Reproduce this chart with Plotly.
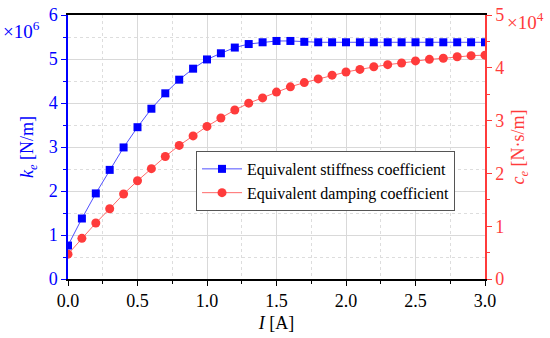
import plotly.graph_objects as go

current = [round(0.1 * i, 1) for i in range(31)]
stiffness = [0.76, 1.375, 1.945, 2.48, 2.99, 3.45, 3.87, 4.22, 4.53, 4.78, 4.99,
             5.13, 5.26, 5.34, 5.38, 5.41, 5.41, 5.39, 5.38, 5.38, 5.38, 5.38,
             5.38, 5.38, 5.38, 5.38, 5.38, 5.38, 5.38, 5.38, 5.38]
damping = [0.47, 0.77, 1.06, 1.33, 1.61, 1.86, 2.09, 2.32, 2.53, 2.71, 2.89,
           3.05, 3.20, 3.33, 3.43, 3.54, 3.64, 3.72, 3.79, 3.86, 3.92, 3.97,
           4.02, 4.06, 4.09, 4.13, 4.16, 4.18, 4.21, 4.23, 4.24]

BLUE = "#0000ff"
RED = "#ff3b3b"
FONT = "Liberation Serif, Times New Roman, serif"

fig = go.Figure()
fig.add_trace(go.Scatter(
    x=current, y=stiffness, name="Equivalent stiffness coefficient",
    mode="lines+markers",
    line=dict(color="rgba(60,60,255,0.9)", width=1),
    marker=dict(symbol="square", size=8, color=BLUE),
    yaxis="y"))
fig.add_trace(go.Scatter(
    x=current, y=damping, name="Equivalent damping coefficient",
    mode="lines+markers",
    line=dict(color="rgba(255,90,90,0.9)", width=1),
    marker=dict(symbol="circle", size=9, color=RED),
    yaxis="y2"))

fig.update_layout(
    width=550, height=338,
    margin=dict(l=68, r=65, t=15, b=59, autoexpand=False),
    paper_bgcolor="white", plot_bgcolor="white",
    font=dict(family=FONT, size=18, color="black"),
    showlegend=True,
    legend=dict(x=0.307, y=0.485, xanchor="left", yanchor="top",
                bgcolor="white", bordercolor="#555555", borderwidth=1,
                font=dict(family=FONT, size=16, color="black"),
                tracegroupgap=0, itemwidth=40),
    xaxis=dict(
        range=[0, 3.0], dtick=0.5, tick0=0, tickformat=".1f",
        showline=True, linecolor="black", linewidth=1.5, mirror=True,
        ticks="outside", ticklen=5, tickcolor="black",
        showgrid=True, gridcolor="#d9d9d9", gridwidth=1,
        minor=dict(dtick=0.25, ticks="outside", ticklen=3, tickcolor="black",
                   showgrid=True, gridcolor="#dddddd", griddash="dot"),
        zeroline=False,
        tickfont=dict(family=FONT, size=18, color="black"),
        title=dict(text="<i>I</i> [A]", font=dict(family=FONT, size=18, color="black"), standoff=6),
    ),
    yaxis=dict(
        range=[0, 6], dtick=1, tick0=0,
        showline=True, linecolor=BLUE, linewidth=1.5,
        ticks="outside", ticklen=5, tickcolor=BLUE,
        showgrid=True, gridcolor="#d9d9d9", gridwidth=1,
        minor=dict(dtick=0.5, ticks="outside", ticklen=3, tickcolor=BLUE,
                   showgrid=True, gridcolor="#dddddd", griddash="dot"),
        zeroline=False,
        tickfont=dict(family=FONT, size=18, color=BLUE),
        title=dict(text="<i>k<sub>e</sub></i> [N/m]", font=dict(family=FONT, size=18, color=BLUE), standoff=10),
    ),
    yaxis2=dict(
        range=[0, 5], dtick=1, tick0=0, overlaying="y", side="right",
        showline=True, linecolor=RED, linewidth=1.5,
        ticks="outside", ticklen=5, tickcolor=RED,
        showgrid=False,
        minor=dict(dtick=0.5, ticks="outside", ticklen=3, tickcolor=RED, showgrid=False),
        zeroline=False,
        tickfont=dict(family=FONT, size=18, color=RED),
        title=dict(text="<i>c<sub>e</sub></i> [N·s/m]", font=dict(family=FONT, size=18, color=RED), standoff=8),
    ),
)

fig.add_annotation(text="×10<sup>6</sup>", xref="paper", yref="paper",
                   x=-0.16, y=0.995, xanchor="left", yanchor="top", showarrow=False,
                   font=dict(family=FONT, size=19, color=BLUE))
fig.add_annotation(text="×10<sup>4</sup>", xref="paper", yref="paper",
                   x=1.048, y=1.03, xanchor="left", yanchor="top", showarrow=False,
                   font=dict(family=FONT, size=19, color=RED))

fig.write_html("out.html", config={"displayModeBar": False},
               post_script="document.body.style.margin='0';")
